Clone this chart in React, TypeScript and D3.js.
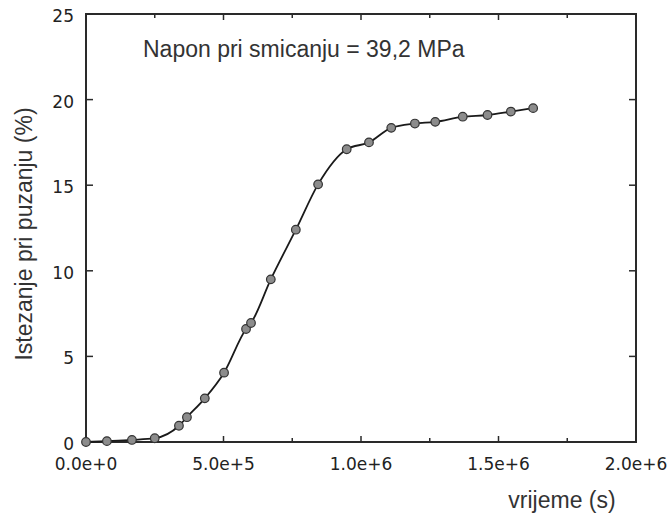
import React from "react";
import * as d3 from "d3";

const timeValues = [0, 76000, 167000, 250000, 338000, 367000, 432000, 502000, 582000, 600000, 672000, 763000, 844000, 948000, 1029000, 1110000, 1196000, 1270000, 1370000, 1460000, 1545000, 1626000];
const strainValues = [0, 0.05, 0.12, 0.22, 0.95, 1.45, 2.55, 4.05, 6.6, 6.95, 9.5, 12.4, 15.05, 17.1, 17.5, 18.35, 18.6, 18.7, 19.0, 19.1, 19.3, 19.5];
const xMajorTicks = [0, 500000, 1000000, 1500000, 2000000];
const xTickLabels = ["0.0e+0", "5.0e+5", "1.0e+6", "1.5e+6", "2.0e+6"];
const xMinorTicks = [250000, 750000, 1250000, 1750000];
const yTicks = [0, 5, 10, 15, 20, 25];
const yTickLabels = ["0", "5", "10", "15", "20", "25"];
const annotation = "Napon pri smicanju = 39,2 MPa";
const xTitle = "vrijeme (s)";
const yTitle = "Istezanje pri puzanju (%)";

export default function App() {
  const W = 670, H = 517;
  const x = d3.scaleLinear().domain([0, 2000000]).range([86, 636]);
  const y = d3.scaleLinear().domain([0, 25]).range([442, 14]);
  const data = timeValues.map((t, i) => ({ t, v: strainValues[i] }));
  const line = d3.line<{ t: number; v: number }>()
    .x(d => x(d.t))
    .y(d => y(d.v))
    .curve(d3.curveMonotoneX);
  const [x0, x1] = x.range();
  const [y0, y1] = y.range();
  const tickFont = "'DejaVu Sans', sans-serif";
  const labelFont = "'Liberation Sans', Arial, sans-serif";
  const ink = "#2a2a2a";
  return (
    <svg width={W} height={H} style={{ position: "absolute", left: 0, top: 0, background: "#fff" }}>
      <rect x={x0} y={y1} width={x1 - x0} height={y0 - y1} fill="none" stroke={ink} strokeWidth={2} />
      {xMajorTicks.map((t, i) => (
        <g key={"xm" + i}>
          <line x1={x(t)} x2={x(t)} y1={y0} y2={y0 - 6} stroke={ink} strokeWidth={1.5} />
          <line x1={x(t)} x2={x(t)} y1={y1} y2={y1 + 6} stroke={ink} strokeWidth={1.5} />
          <text x={x(t)} y={470} textAnchor="middle" fontFamily={tickFont} fontSize={17} fill="#222">{xTickLabels[i]}</text>
        </g>
      ))}
      {xMinorTicks.map((t, i) => (
        <g key={"xn" + i}>
          <line x1={x(t)} x2={x(t)} y1={y0} y2={y0 - 4} stroke={ink} strokeWidth={1.5} />
          <line x1={x(t)} x2={x(t)} y1={y1} y2={y1 + 4} stroke={ink} strokeWidth={1.5} />
        </g>
      ))}
      {yTicks.map((v, i) => (
        <g key={"y" + i}>
          <line x1={x0} x2={x0 + 7} y1={y(v)} y2={y(v)} stroke={ink} strokeWidth={1.5} />
          <line x1={x1} x2={x1 - 7} y1={y(v)} y2={y(v)} stroke={ink} strokeWidth={1.5} />
          <text x={74} y={y(v) + 8} textAnchor="end" fontFamily={tickFont} fontSize={17} fill="#222">{yTickLabels[i]}</text>
        </g>
      ))}
      <path d={line(data) || ""} fill="none" stroke="#1a1a1a" strokeWidth={1.8} />
      {data.map((d, i) => (
        <circle key={"p" + i} cx={x(d.t)} cy={y(d.v)} r={4.3} fill="#8c8c8c" stroke="#333" strokeWidth={1.2} />
      ))}
      <text x={143} y={57} fontFamily={labelFont} fontSize={23} fill="#333">{annotation}</text>
      <text x={562} y={508} textAnchor="middle" fontFamily={labelFont} fontSize={23} fill="#333">{xTitle}</text>
      <text transform={`translate(32,234) rotate(-90)`} textAnchor="middle" fontFamily={labelFont} fontSize={23} fill="#333">{yTitle}</text>
    </svg>
  );
}
